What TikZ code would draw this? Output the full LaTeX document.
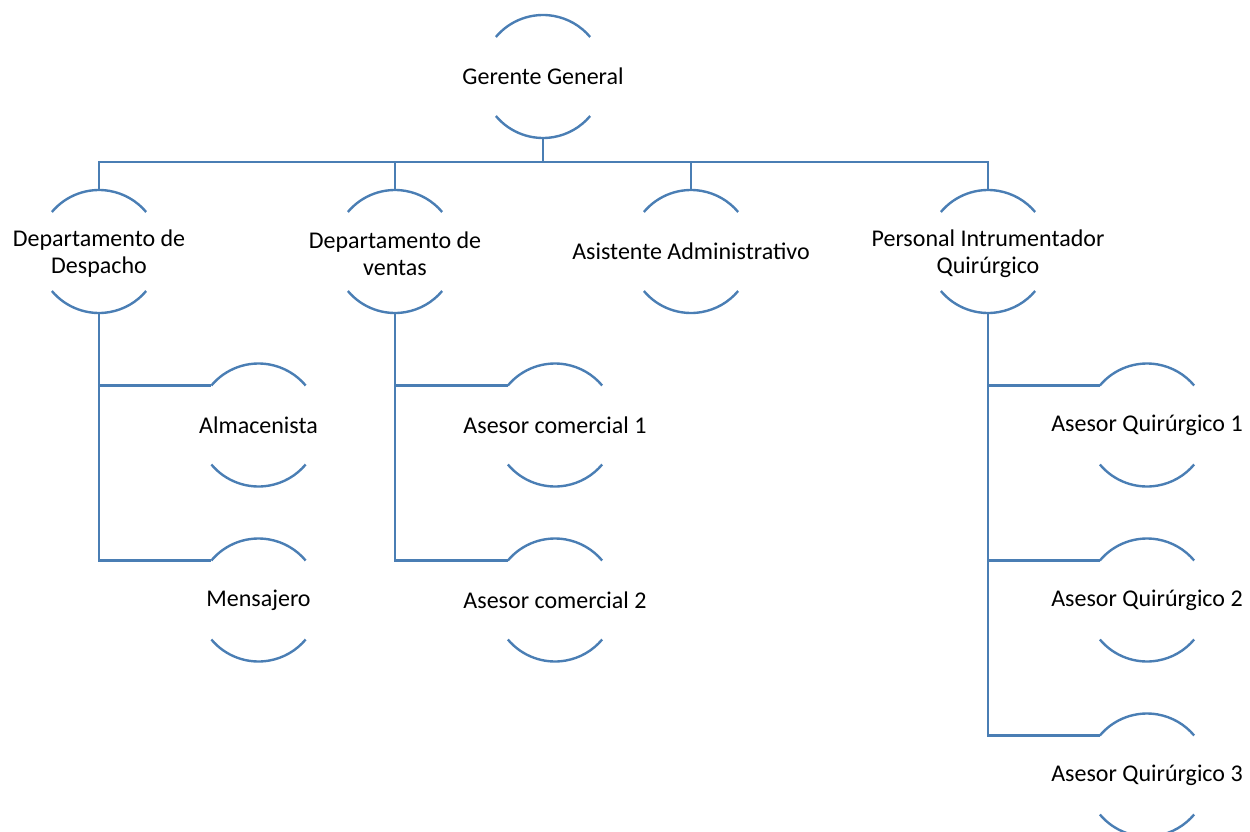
\documentclass[tikz,border=0pt]{standalone}
\usepackage{fontspec}
\setmainfont{Carlito}
\definecolor{orgblue}{RGB}{74,126,180}
\begin{document}
\begin{tikzpicture}[x=1pt,y=1pt,
  ring/.style={circle,minimum size=123pt,inner sep=0pt,outer sep=0pt},
  label/.style={inner sep=0pt,align=center,font=\fontsize{24}{27}\selectfont,text=black},
  orgline/.style={draw=orgblue,line width=2.4pt}]
\useasboundingbox (0,0) rectangle (1250,-832);
\newcommand{\orgbox}[4][0]{%
  \node[ring] (#2) at (#3) {};
  \node[label] (#2-t) at ([yshift=#1pt]#2.center) {#4};
  \draw[orgline] (#2.140) arc[start angle=140,end angle=40,radius=61.5pt];
  \draw[orgline] (#2.220) arc[start angle=220,end angle=320,radius=61.5pt];}
\orgbox{gg}{543,-76.5}{Gerente General}
\orgbox[-2.5]{d1}{99,-251.5}{Departamento de\\Despacho}
\orgbox[-2.5]{d2}{395,-251.5}{Departamento de\\ventas}
\orgbox{d3}{691,-251.5}{Asistente Administrativo}
\orgbox[-2.5]{d4}{988,-251.5}{Personal Intrumentador\\Quirúrgico}
\orgbox{alm}{258.5,-425}{Almacenista}
\orgbox{men}{258.5,-600}{Mensajero}
\orgbox{ac1}{555,-425}{Asesor comercial 1}
\orgbox{ac2}{555,-600}{Asesor comercial 2}
\orgbox{aq1}{1147,-425}{Asesor Quirúrgico 1}
\orgbox{aq2}{1147,-600}{Asesor Quirúrgico 2}
\orgbox{aq3}{1147,-775}{Asesor Quirúrgico 3}
\foreach \n in {d1,d2,d3,d4}{\draw[orgline] (gg.south) -- ++(0,-24) -| (\n.north);}
\draw[orgline] (d1.south) |- (alm.140);
\draw[orgline] (d1.south) |- (men.140);
\draw[orgline] (d2.south) |- (ac1.140);
\draw[orgline] (d2.south) |- (ac2.140);
\draw[orgline] (d4.south) |- (aq1.140);
\draw[orgline] (d4.south) |- (aq2.140);
\draw[orgline] (d4.south) |- (aq3.140);
\end{tikzpicture}
\end{document}
